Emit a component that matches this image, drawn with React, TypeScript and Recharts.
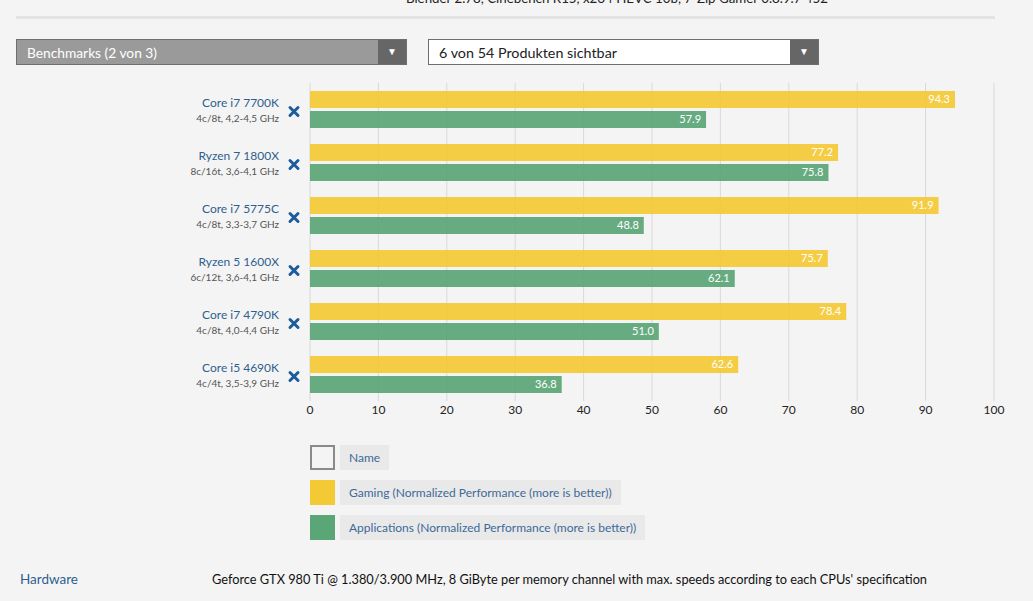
import { BarChart, Bar, XAxis, YAxis, CartesianGrid, LabelList } from "recharts";

const cpuNames = [
  "Core i7 7700K",
  "Ryzen 7 1800X",
  "Core i7 5775C",
  "Ryzen 5 1600X",
  "Core i7 4790K",
  "Core i5 4690K",
];
const cpuSpecs = [
  "4c/8t, 4,2-4,5 GHz",
  "8c/16t, 3,6-4,1 GHz",
  "4c/8t, 3,3-3,7 GHz",
  "6c/12t, 3,6-4,1 GHz",
  "4c/8t, 4,0-4,4 GHz",
  "4c/4t, 3,5-3,9 GHz",
];
const gaming = [94.3, 77.2, 91.9, 75.7, 78.4, 62.6];
const applications = [57.9, 75.8, 48.8, 62.1, 51.0, 36.8];
const xTicks = [0, 10, 20, 30, 40, 50, 60, 70, 80, 90, 100];

const data = cpuNames.map((name, i) => ({
  name,
  spec: cpuSpecs[i],
  gaming: gaming[i],
  applications: applications[i],
}));

const YELLOW = "#f3c936";
const GREEN = "#5ba677";
const LINK = "#2f5f8f";

function CpuTick(props: any) {
  const { x, y, payload } = props;
  const spec = cpuSpecs[cpuNames.indexOf(payload.value)];
  return (
    <g>
      <text x={x - 29} y={y - 3} textAnchor="end" fontSize={12} fill={LINK} fontFamily="Lato">
        {payload.value}
      </text>
      <text x={x - 29} y={y + 12} textAnchor="end" fontSize={10} fill="#555" fontFamily="Lato">
        {spec}
      </text>
      <g stroke="#1d5c9a" strokeWidth={3} strokeLinecap="round">
        <line x1={x - 18} y1={y - 2} x2={x - 10} y2={y + 6} />
        <line x1={x - 18} y1={y + 6} x2={x - 10} y2={y - 2} />
      </g>
    </g>
  );
}

// condensed text, squeezed to the width it has in the page
function NarrowText({ left, top, width, color, size, text }: { left: number; top: number; width: number; color: string; size: number; text: string }) {
  return (
    <svg style={{ position: "absolute", left, top, overflow: "visible" }} width={width} height={size + 6}>
      <text x={0} y={size} fontFamily="Lato" fontSize={size} fill={color} textLength={width} lengthAdjust="spacingAndGlyphs">
        {text}
      </text>
    </svg>
  );
}

function LegendRow({ top, color, label }: { top: number; color?: string; label: string }) {
  return (
    <div style={{ position: "absolute", left: 310, top, height: 25, display: "flex" }}>
      <div
        style={{
          width: 25,
          height: 25,
          boxSizing: "border-box",
          background: color ?? "transparent",
          border: color ? "none" : "2px solid #8a8a8a",
        }}
      />
      <div
        style={{
          marginLeft: 5,
          background: "#e9e9e9",
          color: "#3d6a99",
          fontFamily: "Lato",
          fontSize: 12,
          lineHeight: "25px",
          padding: "0 9px",
        }}
      >
        {label}
      </div>
    </div>
  );
}

function Dropdown({ left, label, dark }: { left: number; label: string; dark: boolean }) {
  return (
    <div
      style={{
        position: "absolute",
        left,
        top: 39,
        width: 391,
        height: 26,
        boxSizing: "border-box",
        background: dark ? "#9a9a9a" : "#fff",
        border: "1px solid #6e6e6e",
      }}
    >
      <NarrowText left={10} top={4} width={dark ? 130 : 178} size={14} color={dark ? "#fff" : "#222"} text={label} />
      <div style={{ position: "absolute", right: 0, top: 0, width: 28, height: 24, background: "#666", color: "#fff", fontSize: 10, lineHeight: "24px", textAlign: "center" }}>
        ▼
      </div>
    </div>
  );
}

export default function App() {
  return (
    <div
      style={{
        position: "absolute",
        left: 0,
        top: 0,
        width: 1033,
        height: 601,
        background: "#f4f4f4",
        overflow: "hidden",
      }}
    >
      <NarrowText left={406} top={-10} width={422} size={13} color="#222" text="Blender 2.78, Cinebench R15, x264 HEVC 10b, 7-Zip Gamer 0.8.9.7 452" />
      <div style={{ position: "absolute", left: 16, top: 16, width: 979, height: 3, background: "#e3e3e3" }} />

      <Dropdown left={16} label="Benchmarks (2 von 3)" dark />
      <Dropdown left={428} label="6 von 54 Produkten sichtbar" dark={false} />

      <div style={{ position: "absolute", left: 0, top: 0 }}>
        <BarChart
          width={1033}
          height={431}
          data={data}
          layout="vertical"
          margin={{ top: 83, right: 39, left: 0, bottom: 0 }}
          barSize={17}
          barGap={3}
        >
          <CartesianGrid horizontal={false} stroke="#d9d9d9" />
          <XAxis
            type="number"
            domain={[0, 100]}
            ticks={xTicks}
            axisLine={false}
            tickLine={false}
            tickSize={0}
            tickMargin={4}
            height={30}
            interval={0}
            tick={{ fontSize: 12, fill: "#222", fontFamily: "Lato" }}
          />
          <YAxis
            type="category"
            dataKey="name"
            width={310}
            axisLine={false}
            tickLine={false}
            tickSize={0}
            tick={<CpuTick />}
          />
          <Bar dataKey="gaming" fill={YELLOW} fillOpacity={0.93} isAnimationActive={false}>
            <LabelList dataKey="gaming" position="insideRight" offset={5} fill="#fff" fontSize={11} fontFamily="Lato" formatter={(v: any) => Number(v).toFixed(1)} />
          </Bar>
          <Bar dataKey="applications" fill={GREEN} fillOpacity={0.93} isAnimationActive={false}>
            <LabelList dataKey="applications" position="insideRight" offset={5} fill="#fff" fontSize={11} fontFamily="Lato" formatter={(v: any) => Number(v).toFixed(1)} />
          </Bar>
        </BarChart>
      </div>

      <LegendRow top={445} label="Name" />
      <LegendRow top={480} color={YELLOW} label="Gaming (Normalized Performance (more is better))" />
      <LegendRow top={515} color={GREEN} label="Applications (Normalized Performance (more is better))" />

      <NarrowText left={20} top={571} width={58} size={13} color={LINK} text="Hardware" />
      <NarrowText
        left={212}
        top={571}
        width={715}
        size={13}
        color="#111"
        text="Geforce GTX 980 Ti @ 1.380/3.900 MHz, 8 GiByte per memory channel with max. speeds according to each CPUs' specification"
      />
    </div>
  );
}
